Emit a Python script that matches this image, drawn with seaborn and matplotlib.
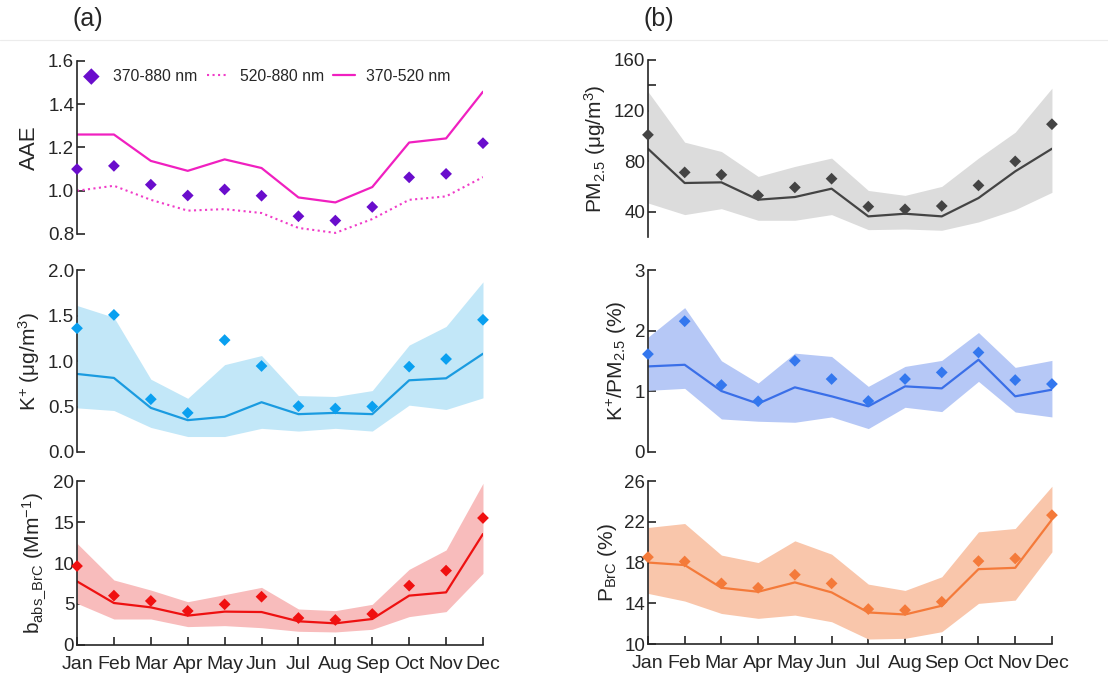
import numpy as np
import seaborn as sns
import matplotlib
matplotlib.use("Agg")
import matplotlib.pyplot as plt

# Months
months = ["Jan", "Feb", "Mar", "Apr", "May", "Jun", "Jul", "Aug", "Sep", "Oct", "Nov", "Dec"]

# (a) AAE
aae_370_880 = [1.10, 1.115, 1.028, 0.978, 1.006, 0.977, 0.882, 0.862, 0.925, 1.062, 1.078, 1.22]
aae_520_880 = [1.00, 1.023, 0.958, 0.908, 0.915, 0.897, 0.828, 0.805, 0.869, 0.958, 0.974, 1.063]
aae_370_520 = [1.26, 1.26, 1.138, 1.092, 1.145, 1.105, 0.969, 0.946, 1.017, 1.223, 1.242, 1.458]

# (a) K+
k_mean = [1.36, 1.507, 0.58, 0.43, 1.23, 0.945, 0.504, 0.478, 0.50, 0.938, 1.022, 1.453]
k_median = [0.858, 0.814, 0.485, 0.35, 0.387, 0.547, 0.416, 0.43, 0.416, 0.788, 0.81, 1.08]
k_upper = [1.61, 1.48, 0.80, 0.59, 0.96, 1.06, 0.62, 0.61, 0.675, 1.175, 1.38, 1.87]
k_lower = [0.485, 0.456, 0.27, 0.17, 0.17, 0.26, 0.23, 0.26, 0.23, 0.515, 0.467, 0.595]

# (a) b_abs_BrC
babs_mean = [9.63, 6.02, 5.37, 4.15, 4.96, 5.89, 3.29, 3.05, 3.78, 7.24, 9.07, 15.49]
babs_median = [7.76, 5.12, 4.59, 3.58, 4.07, 4.02, 2.89, 2.64, 3.17, 6.02, 6.42, 13.54]
babs_upper = [12.4, 7.93, 6.7, 5.28, 6.14, 7.03, 4.39, 4.19, 4.96, 9.23, 11.59, 19.72]
babs_lower = [5.08, 3.17, 3.17, 2.24, 2.36, 2.11, 1.67, 1.59, 1.91, 3.46, 4.07, 8.74]

# (b) PM2.5
pm_mean = [100.8, 71.1, 69.2, 52.9, 59.2, 66.1, 44.0, 41.9, 44.5, 60.8, 79.8, 109.2]
pm_median = [89.8, 62.7, 63.2, 49.5, 51.6, 58.2, 36.3, 38.4, 36.3, 50.8, 71.9, 89.8]
pm_upper = [135.0, 95.0, 87.6, 67.9, 75.8, 82.4, 56.8, 52.9, 60.0, 82.4, 102.9, 137.7]
pm_lower = [46.9, 37.7, 42.4, 33.2, 33.2, 37.7, 25.8, 26.3, 25.3, 31.9, 41.6, 55.3]

# (b) K+/PM2.5
kpm_mean = [1.614, 2.156, 1.104, 0.836, 1.504, 1.203, 0.841, 1.203, 1.312, 1.641, 1.186, 1.121]
kpm_median = [1.411, 1.438, 1.005, 0.797, 1.066, 0.918, 0.753, 1.082, 1.049, 1.521, 0.918, 1.027]
kpm_upper = [1.893, 2.38, 1.504, 1.137, 1.63, 1.575, 1.082, 1.411, 1.51, 1.97, 1.395, 1.51]
kpm_lower = [1.016, 1.049, 0.545, 0.507, 0.49, 0.578, 0.386, 0.737, 0.666, 1.164, 0.66, 0.578]

# (b) P_BrC
pbrc_mean = [18.53, 18.1, 15.95, 15.52, 16.8, 15.95, 13.43, 13.33, 14.15, 18.14, 18.4, 22.65]
pbrc_median = [18.0, 17.75, 15.52, 15.13, 16.05, 15.07, 13.1, 12.9, 13.76, 17.35, 17.48, 22.22]
pbrc_upper = [21.44, 21.83, 18.73, 18.0, 20.13, 18.82, 15.88, 15.26, 16.6, 21.01, 21.34, 25.49]
pbrc_lower = [14.97, 14.22, 13.0, 12.52, 12.84, 12.19, 10.49, 10.56, 11.21, 13.99, 14.31, 19.05]

sns.set_style("ticks")
plt.rcParams['font.family'] = ['Liberation Sans', 'DejaVu Sans']
plt.rcParams['mathtext.default'] = 'regular'
plt.rcParams['axes.linewidth'] = 1.2

x = np.arange(12)
fig = plt.figure(figsize=(11.08, 6.8), dpi=100)

left_x, left_w = 0.0695, 0.3664
right_x, right_w = 0.5848, 0.3646
rows = [(0.6559, 0.2544), (0.3353, 0.2676), (0.0515, 0.2411)]


def style_axis(ax, bottom):
    sns.despine(ax=ax, top=True, right=True, bottom=not bottom)
    ax.set_xlim(0, 11)
    ax.tick_params(axis='y', direction='in', length=6, width=1.2, labelsize=13.5, pad=2)
    if bottom:
        ax.set_xticks(x)
        ax.set_xticklabels(months)
        ax.tick_params(axis='x', direction='in', length=6, width=1.2, labelsize=14, pad=8)
    else:
        ax.set_xticks([])
    ax.set_facecolor('none')


def band_panel(ax, mean, median, upper, lower, dark, light, mcol):
    ax.fill_between(x, lower, upper, color=light, lw=0)
    sns.lineplot(x=x, y=median, ax=ax, color=dark, lw=1.6)
    sns.scatterplot(x=x, y=mean, ax=ax, color=mcol, marker='D', s=36, edgecolor='none', clip_on=False, zorder=5)


# faint rule under the panel labels
fig.add_artist(plt.Line2D([0, 1], [0.941, 0.941], color='#ececec', lw=0.8))

# (a) top: AAE
ax = fig.add_axes([left_x, rows[0][0], left_w, rows[0][1]])
sns.scatterplot(x=x, y=aae_370_880, ax=ax, color='#6a0dcc', marker='D', s=36, edgecolor='none',
                clip_on=False, zorder=5, label='370-880 nm')
sns.lineplot(x=x, y=aae_520_880, ax=ax, color='#f03cc8', lw=1.5, linestyle=':', label='520-880 nm')
sns.lineplot(x=x, y=aae_370_520, ax=ax, color='#f020c0', lw=1.6, label='370-520 nm')
ax.set_ylim(0.8, 1.6)
ax.set_yticks([0.8, 1.0, 1.2, 1.4, 1.6])
ax.set_yticklabels(['0.8', '1.0', '1.2', '1.4', '1.6'])
ax.set_ylabel('AAE', fontsize=16, labelpad=6)
style_axis(ax, False)
ax.legend(loc='upper left', ncol=3, frameon=False, fontsize=11.3, bbox_to_anchor=(-0.015, 1.01),
          handlelength=1.4, columnspacing=0.6, handletextpad=0.7, markerscale=1.4, borderaxespad=0.2)

# (a) middle: K+
ax = fig.add_axes([left_x, rows[1][0], left_w, rows[1][1]])
band_panel(ax, k_mean, k_median, k_upper, k_lower, '#1a9be0', '#c2e7f8', '#0aa0f0')
ax.set_ylim(0, 2.0)
ax.set_yticks([0, 0.5, 1.0, 1.5, 2.0])
ax.set_yticklabels(['0.0', '0.5', '1.0', '1.5', '2.0'])
ax.set_ylabel('K$^{+}$ (μg/m$^{3}$)', fontsize=15)
style_axis(ax, False)

# (a) bottom: b_abs_BrC
ax = fig.add_axes([left_x, rows[2][0], left_w, rows[2][1]])
band_panel(ax, babs_mean, babs_median, babs_upper, babs_lower, '#ee1111', '#f8bcbc', '#f01010')
ax.set_ylim(0, 20)
ax.set_yticks([0, 5, 10, 15, 20])
ax.set_ylabel('b$_{abs\\_BrC}$ (Mm$^{-1}$)', fontsize=15)
style_axis(ax, True)

# (b) top: PM2.5
ax = fig.add_axes([right_x, 0.6515, right_w, 0.2603])
band_panel(ax, pm_mean, pm_median, pm_upper, pm_lower, '#444444', '#dcdcdc', '#444444')
ax.set_ylim(20, 160)
ax.set_yticks([40, 80, 120, 160])
ax.set_yticks([140], minor=True)
ax.tick_params(axis='y', which='minor', direction='in', length=6, width=1.2)
ax.set_ylabel('PM$_{2.5}$ (μg/m$^{3}$)', fontsize=15)
style_axis(ax, False)

# (b) middle: K+/PM2.5
ax = fig.add_axes([right_x, rows[1][0], right_w, rows[1][1]])
band_panel(ax, kpm_mean, kpm_median, kpm_upper, kpm_lower, '#3a6fe8', '#b6c8f6', '#3377ee')
ax.set_ylim(0, 3)
ax.set_yticks([0, 1, 2, 3])
ax.set_ylabel('K$^{+}$/PM$_{2.5}$ (%)', fontsize=15)
style_axis(ax, False)

# (b) bottom: P_BrC
ax = fig.add_axes([right_x, 0.0529, right_w, 0.2397])
band_panel(ax, pbrc_mean, pbrc_median, pbrc_upper, pbrc_lower, '#f47a3a', '#f9c6ab', '#f47a3a')
ax.set_ylim(10, 26)
ax.set_yticks([10, 14, 18, 22, 26])
ax.set_ylabel('P$_{BrC}$ (%)', fontsize=15)
style_axis(ax, True)

fig.text(0.0795, 0.972, '(a)', fontsize=18, ha='center', va='center')
fig.text(0.5945, 0.972, '(b)', fontsize=18, ha='center', va='center')

fig.savefig('out.png', dpi=100)
